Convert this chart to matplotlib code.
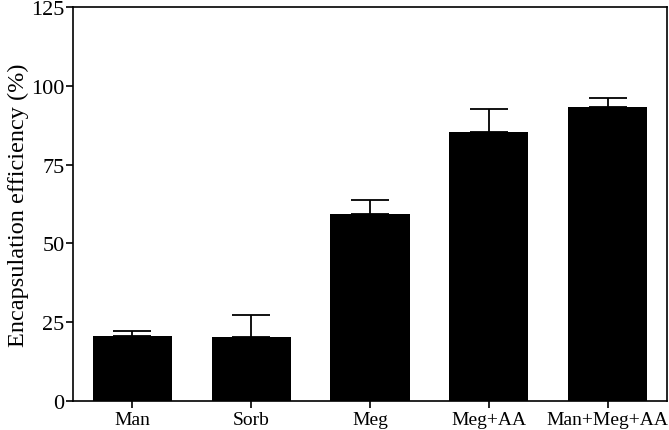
import matplotlib
matplotlib.use("Agg")
from matplotlib import pyplot as plt
import numpy as np

plt.rcParams['font.family'] = ['Liberation Serif', 'DejaVu Serif']

groups = ['Man', 'Sorb', 'Meg', 'Meg+AA', 'Man+Meg+AA']
efficiency = [20.6, 20.3, 59.3, 85.3, 93.4]
sd = [1.7, 7.0, 4.5, 7.3, 2.6]

fig = plt.figure(figsize=(6.69, 4.31), dpi=100)
ax = fig.add_axes([73 / 669, 29 / 431, 594 / 669, 394 / 431])

x = np.arange(len(groups))
ax.bar(x, efficiency, width=0.665, color='black', zorder=2)
ax.errorbar(x, efficiency, yerr=[np.zeros(len(sd)), sd], fmt='none',
            ecolor='black', elinewidth=1.3, capsize=14, capthick=1.3, zorder=1)

ax.set_xlim(-0.5, 4.5)
ax.set_ylim(0, 125)
ax.set_yticks([0, 25, 50, 75, 100, 125])
ax.set_xticks(x)
ax.set_xticklabels(groups)
ax.tick_params(axis='both', direction='out', length=5, width=1.2, pad=1)
ax.tick_params(axis='y', labelsize=16)
ax.tick_params(axis='x', labelsize=14, pad=2)
for s in ax.spines.values():
    s.set_linewidth(1.2)
ax.set_ylabel('Encapsulation efficiency (%)', fontsize=17.5, labelpad=2)

fig.savefig('out.png', dpi=100)
